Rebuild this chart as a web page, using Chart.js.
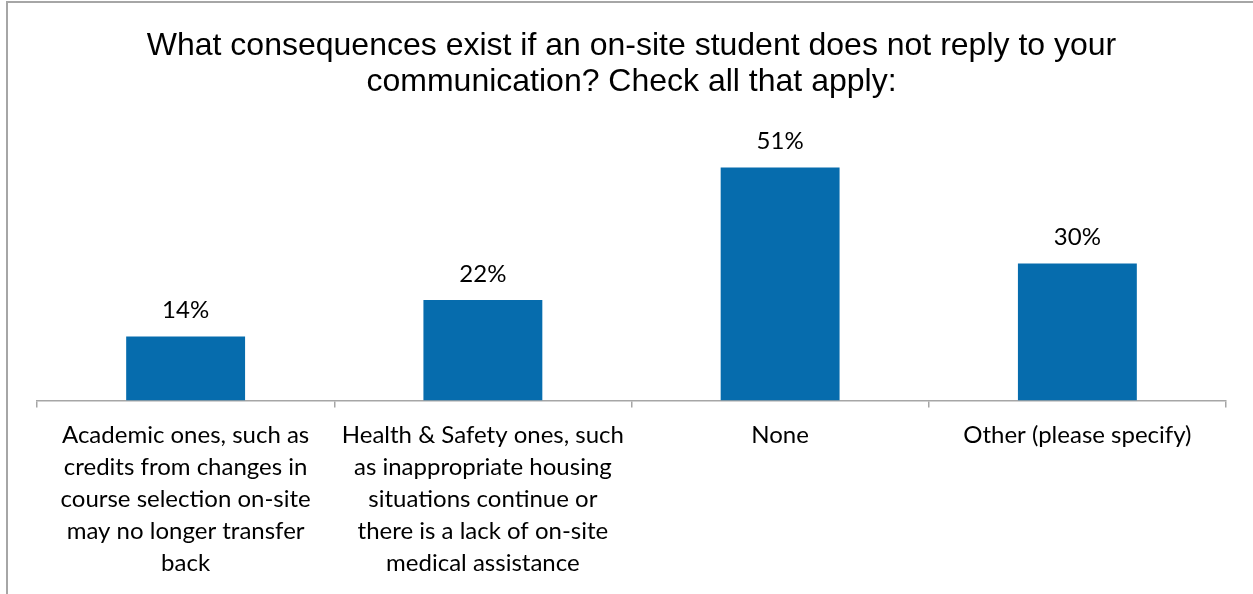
<!DOCTYPE html>
<html>
<head>
<meta charset="utf-8">
<script src="https://cdn.jsdelivr.net/npm/chart.js@4/dist/chart.umd.min.js"></script>
<style>
  html, body { margin: 0; padding: 0; background: #fff; overflow: hidden; }
  #wrap { position: relative; width: 1253px; height: 594px; }
  #frame { position: absolute; left: 6px; top: 1px; width: 1400px; height: 800px;
           border: 2px solid #a6a6a6; pointer-events: none; }
</style>
</head>
<body>
<div id="wrap">
  <canvas id="chart" width="1253" height="594"></canvas>
  <div id="frame"></div>
</div>
<script>
// chart data
const titleLines = ["What consequences exist if an on-site student does not reply to your",
                    "communication? Check all that apply:"];
const categories = [
    ["Academic ones, such as", "credits from changes in", "course selection on-site", "may no longer transfer", "back"],
    ["Health & Safety ones, such", "as inappropriate housing", "situations continue or", "there is a lack of on-site", "medical assistance"],
    "None",
    "Other (please specify)"
];
const percents = [14, 22, 51, 30];

// draws the "14%" labels over each bar
const barLabels = {
    id: "barLabels",
    afterDatasetsDraw(chart) {
        const ctx = chart.ctx;
        const meta = chart.getDatasetMeta(0);
        ctx.save();
        ctx.font = "24px Lato";
        ctx.fillStyle = "#000";
        ctx.textAlign = "center";
        ctx.textBaseline = "middle";
        meta.data.forEach((bar, i) => {
            ctx.fillText(percents[i] + "%", bar.x, bar.y - 26);
        });
        ctx.restore();
    }
};

new Chart(document.getElementById("chart").getContext("2d"), {
    type: "bar",
    data: {
        labels: categories,
        datasets: [{
            data: percents,
            backgroundColor: "#066cad",
            borderWidth: 0,
            barPercentage: 0.4,
            categoryPercentage: 1.0
        }]
    },
    options: {
        responsive: false,
        animation: false,
        layout: { padding: { left: 37, right: 27, top: 0, bottom: 3 } },
        scales: {
            y: {
                display: false,
                min: 0,
                max: 60
            },
            x: {
                grid: {
                    offset: true,
                    drawOnChartArea: false,
                    drawTicks: true,
                    tickLength: 7,
                    color: "#a6a6a6",
                    lineWidth: 1.5
                },
                border: { color: "#a6a6a6", width: 1.5 },
                ticks: {
                    color: "#000",
                    padding: 12,
                    maxRotation: 0,
                    autoSkip: false,
                    font: { family: "Lato", size: 24, lineHeight: 1.33 }
                }
            }
        },
        plugins: {
            legend: { display: false },
            tooltip: { enabled: false },
            title: {
                display: true,
                text: titleLines,
                color: "#000",
                font: { family: "Liberation Sans", size: 32, weight: "normal", lineHeight: 1.1 },
                padding: { top: 29, bottom: 27 }
            }
        }
    },
    plugins: [barLabels]
});
</script>
</body>
</html>
